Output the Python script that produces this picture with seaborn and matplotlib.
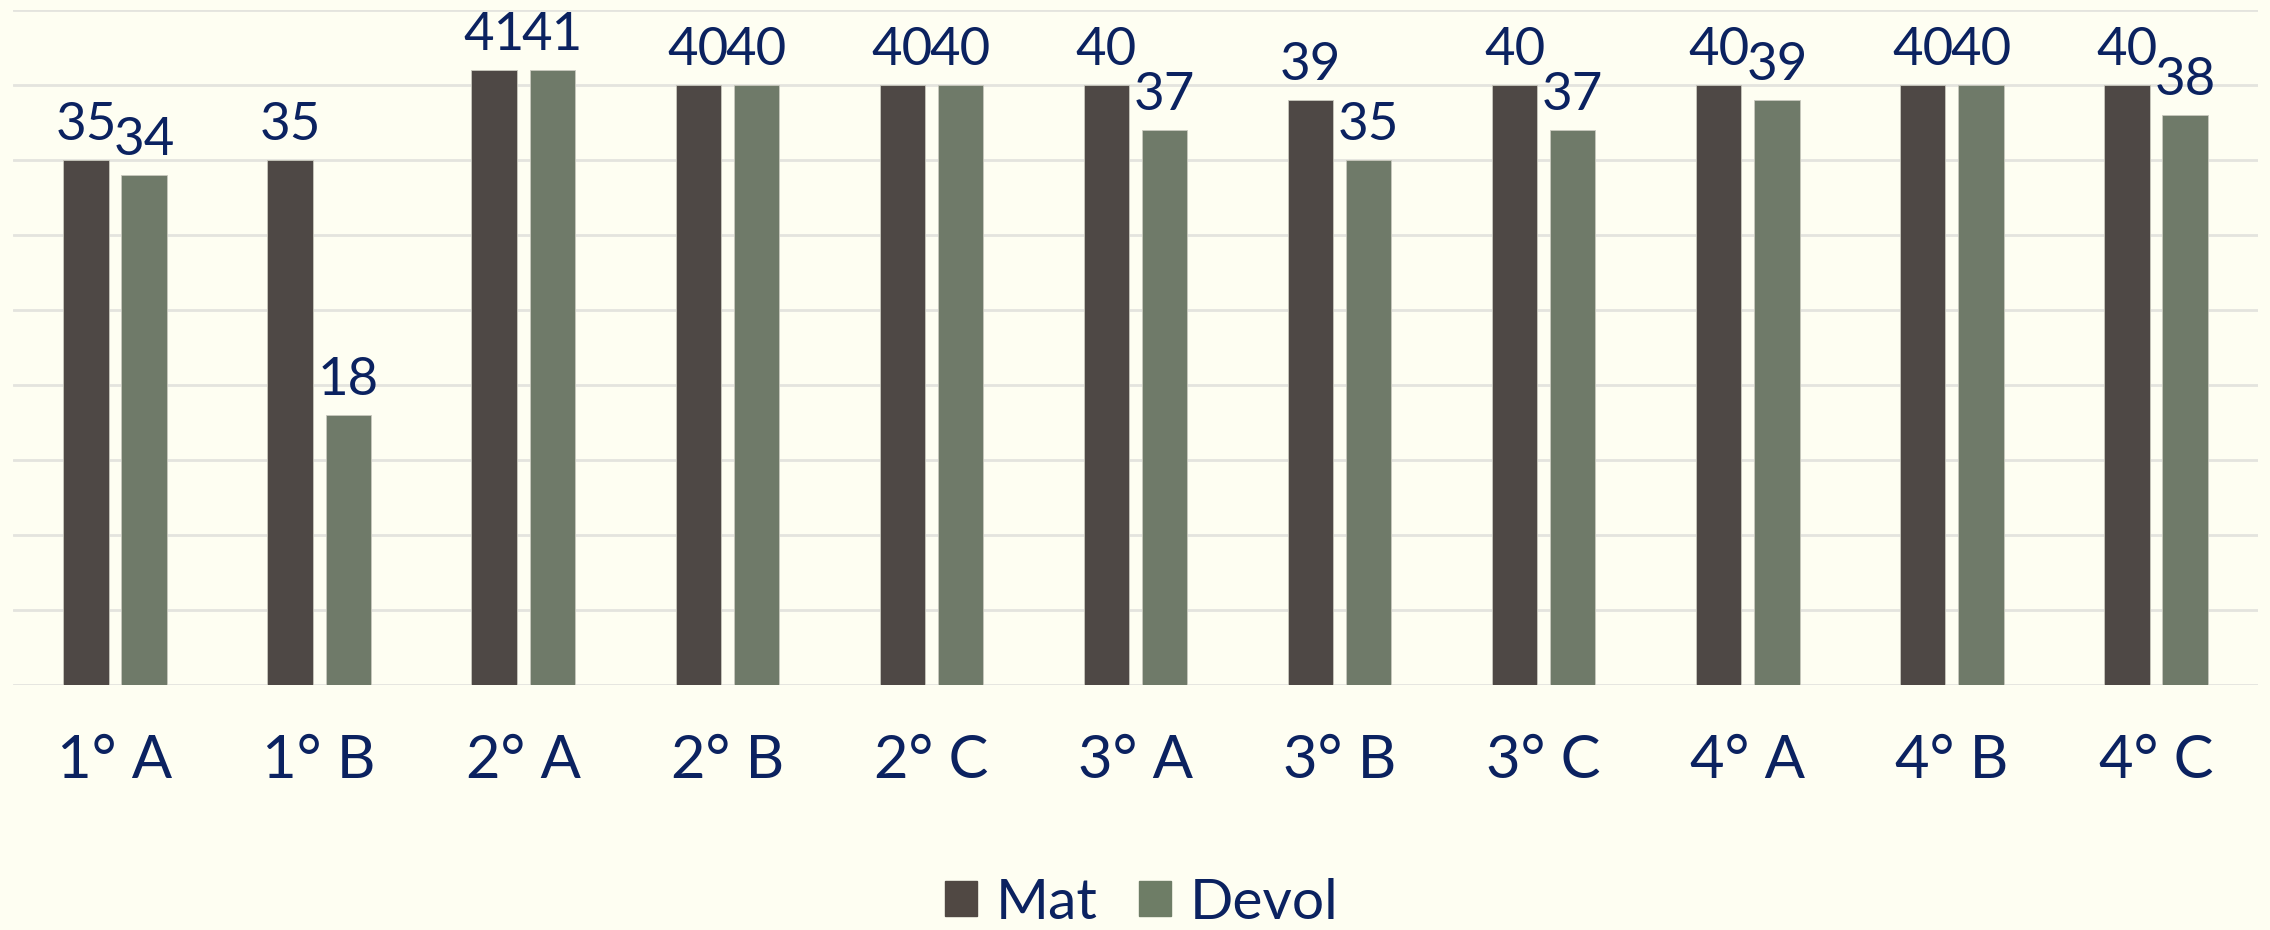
import pandas as pd
import numpy as np
import matplotlib.pyplot as plt
import seaborn as sns

# datos por curso
cursos = ['1° A', '1° B', '2° A', '2° B', '2° C', '3° A', '3° B', '3° C', '4° A', '4° B', '4° C']
mat = [35, 35, 41, 40, 40, 40, 39, 40, 40, 40, 40]
devol = [34, 18, 41, 40, 40, 37, 35, 37, 39, 40, 38]
series = ['Mat', 'Devol']

df = pd.DataFrame({
    'Curso': cursos * 2,
    'Serie': ['Mat'] * len(cursos) + ['Devol'] * len(cursos),
    'Valor': mat + devol,
})

fondo = '#FEFEF2'
texto = '#0B2260'
colores = ['#504843', '#6E7D66']

sns.set_theme(style='white')
plt.rcParams['font.family'] = ['Lato', 'DejaVu Sans']

fig = plt.figure(figsize=(22.7, 9.3), dpi=100, facecolor=fondo)
ax = fig.add_axes([0.00573, 0.2634, 0.989, 0.7259])
ax.set_facecolor(fondo)

sns.barplot(data=df, x='Curso', y='Valor', hue='Serie', hue_order=series,
            palette=colores, width=0.57, gap=0.22, edgecolor='#C9C9BE',
            linewidth=0.6, legend=False, ax=ax)

ax.set_ylim(0, 45)
ax.set_yticks(np.arange(0, 46, 5))
ax.set_yticklabels([])
ax.yaxis.grid(True, color='#E4E4DE', linewidth=2)
ax.set_axisbelow(True)
ax.set_xlim(-0.5, len(cursos) - 0.5)
for s in ax.spines.values():
    s.set_visible(False)
ax.tick_params(axis='x', length=0, pad=35, labelsize=43, labelcolor=texto)
ax.tick_params(axis='y', length=0)
ax.set_xlabel('')
ax.set_ylabel('')

for cont in ax.containers:
    ax.bar_label(cont, fmt='%d', padding=8, fontsize=38, color=texto)

handles = [plt.Rectangle((0, 0), 1, 1, color=c) for c in colores]
fig.legend(handles, series, loc='center', bbox_to_anchor=(0.503, 0.029), ncol=2,
           frameon=False, fontsize=41, labelcolor=texto, handlelength=0.56,
           handleheight=0.56, handletextpad=0.32, columnspacing=0.74)

fig.savefig('out.png', dpi=100, facecolor=fondo)
